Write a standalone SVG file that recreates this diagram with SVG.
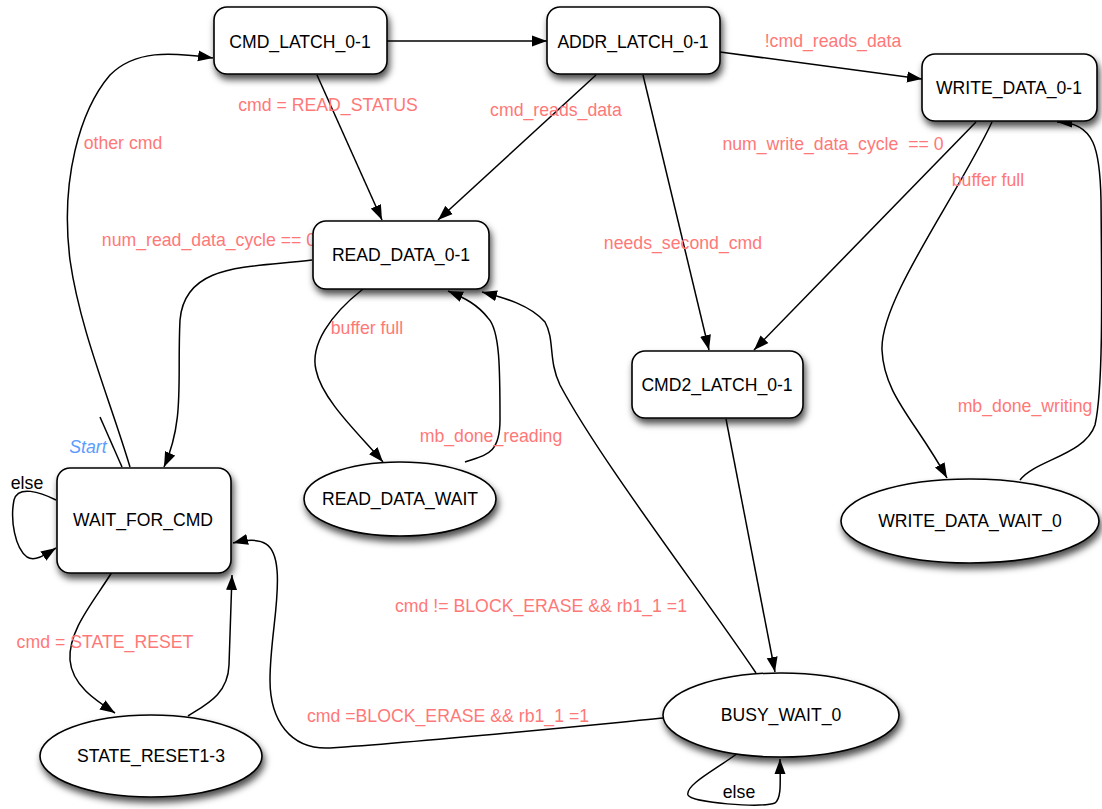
<svg xmlns="http://www.w3.org/2000/svg" width="1102" height="809" viewBox="0 0 1102 809">
<style>
.n{fill:#fff;stroke:#000;stroke-width:1.6;filter:url(#sh)}
.nt{font-family:"Liberation Sans",Arial,sans-serif;font-size:17.6px;fill:#000;text-anchor:middle}
.lb{font-family:"Liberation Sans",Arial,sans-serif;font-size:17.7px;fill:#ff7878;text-anchor:middle;white-space:pre}
.bl{fill:#000}
.st{fill:#5b9cff;font-style:italic}
.e{fill:none;stroke:#000;stroke-width:1.5}
.a{marker-end:url(#ah)}
</style>
<defs>
<filter id="sh" x="-20%" y="-20%" width="140%" height="150%">
<feDropShadow dx="2" dy="5" stdDeviation="3.5" flood-color="#000" flood-opacity="0.7"/>
</filter>
<marker id="ah" markerUnits="userSpaceOnUse" markerWidth="16" markerHeight="12" refX="15" refY="6" orient="auto">
<path d="M0,0.5 L15,6 L0,11.5 z" fill="#000"/>
</marker>
</defs>
<rect width="1102" height="809" fill="#fff"/>
<g id="connectors">
<path class="e a" d="M386,41 L547,41"/>
<path class="e a" d="M720,52 L922,79"/>
<path class="e a" d="M317,75 L382,220"/>
<path class="e a" d="M596,75 L438,220"/>
<path class="e a" d="M643,75 L709,350"/>
<path class="e a" d="M976,122 L754,350"/>
<path class="e a" d="M992,122 C955,200 880,300 882,350 C884,395 915,420 947,478"/>
<path class="e a" d="M1020,480 C1035,460 1085,455 1095,425 C1103,390 1102,300 1101,200 C1100,150 1095,122 1057,122"/>
<path class="e a" d="M312,260 C250,268 185,262 180,320 C177,380 185,420 164,467"/>
<path class="e a" d="M363,289 C330,315 310,345 316,370 C322,400 360,435 383,462"/>
<path class="e a" d="M465,462 C485,455 500,455 500,420 C500,370 500,330 488,318 C478,305 465,298 448,291"/>
<path class="e a" d="M756,673 C700,590 600,460 560,385 C548,360 555,340 545,322 C530,305 505,298 482,292"/>
<path class="e a" d="M726,419 L775,672"/>
<path class="e a" d="M738,753 C715,770 685,785 688,795 C692,803 760,808 775,803 C782,798 780,780 780,759"/>
<path class="e a" d="M664,718 C560,728 420,742 330,748 C290,750 270,720 270,680 C270,640 280,600 277,570 C275,545 265,535 233,543"/>
<path class="e a" d="M112,572 C95,600 68,630 70,660 C72,685 95,700 115,713"/>
<path class="e a" d="M188,716 C205,705 228,695 229,665 C230,640 231,610 232,575"/>
<path class="e a" d="M56,500 C40,492 18,485 14,500 C10,520 15,548 27,557 C35,562 45,555 56,548"/>
<path class="e a" d="M130,467 C110,400 80,330 70,260 C60,180 80,110 110,75 C135,50 170,52 213,58"/>
<path class="e" d="M100,417 L122,467"/>
</g>
<g id="labels">
<text class="lb" x="833" y="47">!cmd_reads_data</text>
<text class="lb" x="328" y="111">cmd = READ_STATUS</text>
<text class="lb" x="556" y="116">cmd_reads_data</text>
<text class="lb" x="123" y="149">other cmd</text>
<text class="lb" x="833" y="150">num_write_data_cycle  == 0</text>
<text class="lb" x="988" y="186">buffer full</text>
<text class="lb" x="209" y="246">num_read_data_cycle == 0</text>
<text class="lb" x="683" y="249">needs_second_cmd</text>
<text class="lb" x="367" y="334">buffer full</text>
<text class="lb" x="1025" y="412">mb_done_writing</text>
<text class="lb" x="491" y="442">mb_done_reading</text>
<text class="lb st" x="88" y="453">Start</text>
<text class="lb bl" x="27" y="489">else</text>
<text class="lb" x="541" y="612">cmd != BLOCK_ERASE &amp;&amp; rb1_1 =1</text>
<text class="lb" x="105" y="648">cmd = STATE_RESET</text>
<text class="lb" x="448" y="722">cmd =BLOCK_ERASE &amp;&amp; rb1_1 =1</text>
<text class="lb bl" x="739" y="798">else</text>
</g>
<g id="CMD_LATCH_0-1"><rect class="n" x="214" y="7" width="173" height="67" rx="13"/><text class="nt" x="300" y="48">CMD_LATCH_0-1</text></g>
<g id="ADDR_LATCH_0-1"><rect class="n" x="547" y="7" width="173" height="67" rx="13"/><text class="nt" x="633" y="48">ADDR_LATCH_0-1</text></g>
<g id="WRITE_DATA_0-1"><rect class="n" x="922" y="54" width="175" height="67" rx="13"/><text class="nt" x="1009" y="94">WRITE_DATA_0-1</text></g>
<g id="READ_DATA_0-1"><rect class="n" x="313" y="221" width="176" height="68" rx="13"/><text class="nt" x="401" y="261">READ_DATA_0-1</text></g>
<g id="CMD2_LATCH_0-1"><rect class="n" x="632" y="351" width="171" height="67" rx="13"/><text class="nt" x="717" y="391">CMD2_LATCH_0-1</text></g>
<g id="WAIT_FOR_CMD"><rect class="n" x="57" y="468" width="174" height="105" rx="13"/><text class="nt" x="143" y="526">WAIT_FOR_CMD</text></g>
<g id="READ_DATA_WAIT"><ellipse class="n" cx="400" cy="499" rx="96" ry="37"/><text class="nt" x="400" y="505">READ_DATA_WAIT</text></g>
<g id="WRITE_DATA_WAIT_0"><ellipse class="n" cx="970" cy="521" rx="129" ry="42"/><text class="nt" x="970" y="527">WRITE_DATA_WAIT_0</text></g>
<g id="BUSY_WAIT_0"><ellipse class="n" cx="781" cy="715" rx="118" ry="42"/><text class="nt" x="781" y="721">BUSY_WAIT_0</text></g>
<g id="STATE_RESET1-3"><ellipse class="n" cx="151" cy="756" rx="111" ry="41"/><text class="nt" x="151" y="762">STATE_RESET1-3</text></g>
</svg>
